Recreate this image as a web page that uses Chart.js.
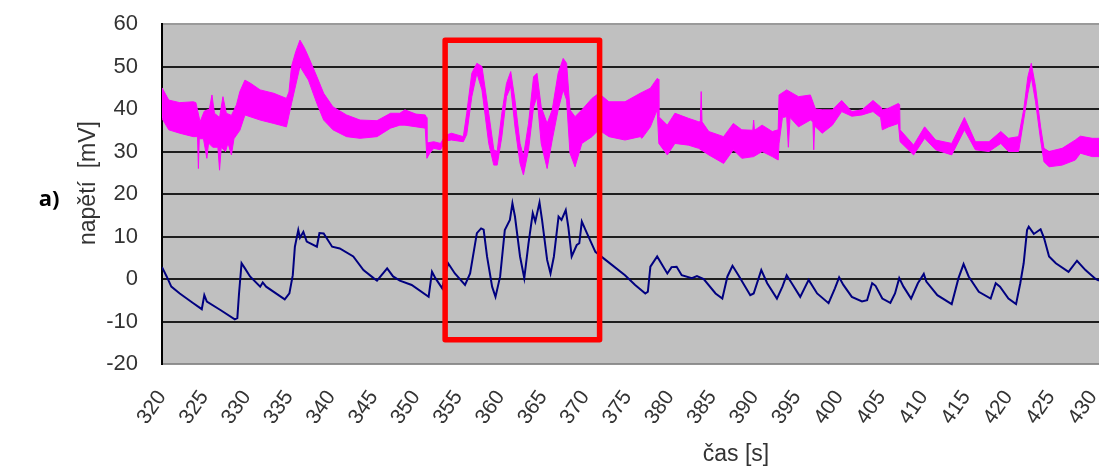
<!DOCTYPE html>
<html>
<head>
<meta charset="utf-8">
<script src="https://cdn.jsdelivr.net/npm/chart.js@4"></script>
<style>
  html, body { margin: 0; padding: 0; background: #fff; }
</style>
</head>
<body>
<canvas id="chart" width="1099" height="466"></canvas>
<script>
// Tick labels
const xTicks = [320, 325, 330, 335, 340, 345, 350, 355, 360, 365, 370, 375, 380, 385, 390, 395, 400, 405, 410, 415, 420, 425, 430];
const yTicks = [-20, -10, 0, 10, 20, 30, 40, 50, 60];

// Navy trace (time [s], voltage [mV])
const navyTime = [320.0, 320.55, 321.1, 322.1, 323.7, 324.7, 325.0, 325.3, 326.9, 328.6, 328.9, 329.1, 329.4, 329.8, 330.4, 331.6, 331.9, 332.3, 334.5, 335.05,
  335.45, 335.7, 336.1, 336.3, 336.7, 337.1, 338.3, 338.6, 339.1, 340.1, 341.0, 342.6, 343.8, 345.0, 345.4, 346.6, 347.3, 348.1, 349.5, 351.5,
  351.9, 352.3, 353.1, 353.8, 354.6, 355.8, 356.4, 357.2, 357.7, 358.0, 358.4, 359.0, 359.4, 359.95, 360.5, 361.1, 361.4, 361.7, 362.3, 362.8,
  363.3, 363.8, 364.1, 364.6, 364.9, 365.5, 365.9, 366.3, 366.85, 367.2, 367.7, 368.0, 368.4, 369.0, 369.3, 369.6, 370.2, 371.2, 372.4, 374.7,
  375.9, 377.1, 377.4, 377.7, 378.5, 379.1, 379.7, 380.2, 380.8, 381.4, 382.6, 383.2, 384.0, 385.4, 386.2, 386.8, 387.4, 388.1, 389.5, 389.9,
  390.8, 391.5, 392.65, 393.3, 393.8, 394.4, 395.4, 396.4, 397.4, 398.75, 399.5, 400.0, 400.5, 401.5, 402.7, 403.3, 403.9, 404.3, 405.1, 406.05,
  406.6, 407.1, 407.6, 408.5, 409.3, 410.0, 410.3, 411.6, 413.3, 414.1, 414.7, 415.3, 416.5, 417.9, 418.5, 419.0, 420.0, 420.9, 421.4, 421.8,
  422.2, 422.4, 423.0, 423.8, 424.2, 424.8, 425.6, 427.1, 428.1, 429.1, 430.3, 430.7];
const navyVolt = [2.8, 0.6, -1.8, -3.4, -5.7, -7.1, -3.8, -5.3, -7.3, -9.5, -9.2, -3.4, 3.7, 2.5, 0.6, -1.8, -0.8, -1.8, -4.8, -3.4,
  0.9, 7.6, 11.5, 9.7, 11.1, 8.8, 7.6, 10.8, 10.7, 7.6, 7.2, 5.3, 2.1, 0.2, -0.4, 2.5, 0.6, -0.4, -1.4, -4.2,
  1.7, 0.2, -2.2, 3.7, 1.3, -1.4, 1.3, 10.8, 11.9, 11.6, 5.3, -1.8, -4.2, 0.6, 11.5, 13.9, 17.8, 14.7, 5.3, 0.2,
  8.4, 15.5, 13.5, 18.0, 13.9, 4.5, 1.3, 5.3, 14.7, 13.9, 16.2, 12.3, 5.3, 8.0, 8.4, 13.5, 10.8, 6.4, 4.5, 0.9,
  -1.4, -3.4, -3.0, 2.9, 5.3, 3.3, 1.3, 2.8, 2.9, 0.9, 0.2, 0.7, 0.0, -3.4, -4.6, 0.6, 3.1, 0.9, -3.8, -3.4,
  2.1, -1.0, -4.6, -1.8, 0.9, -1.0, -4.2, -0.2, -3.4, -5.7, -2.2, 0.4, -1.4, -4.2, -5.3, -5.0, -1.0, -1.6, -4.6, -5.6,
  -3.4, 0.2, -1.8, -4.6, -1.0, 1.2, -0.6, -3.8, -5.9, 0.2, 3.5, 0.6, -3.0, -4.6, -1.0, -1.8, -4.6, -5.9, -1.0, 3.7,
  11.5, 12.3, 10.6, 11.7, 9.7, 5.3, 3.7, 1.7, 4.3, 2.1, 0.0, -0.4];

// Magenta trace: upper envelope of the noisy band
const pinkHiTime = [320.0, 320.8, 322.1, 323.7, 324.0, 324.5, 325.0, 325.6, 325.9, 326.2, 326.8, 327.2, 327.6, 328.2, 328.8, 329.2, 329.8, 330.5, 331.6, 333.2,
  334.7, 335.0, 335.3, 335.8, 336.3, 336.8, 337.3, 338.3, 339.1, 340.2, 341.8, 343.4, 345.4, 347.0, 348.1, 348.7, 350.0, 351.1, 351.25, 351.3,
  352.1, 352.9, 353.5, 354.2, 355.6, 356.0, 356.6, 357.2, 357.8, 358.6, 359.2, 359.6, 360.15, 360.7, 361.2, 361.7, 362.3, 362.7, 363.3, 363.9,
  364.3, 364.8, 365.5, 366.1, 366.8, 367.4, 367.8, 368.2, 368.8, 369.6, 370.8, 371.6, 372.8, 374.7, 376.5, 377.7, 378.5, 378.65, 378.7, 379.7,
  380.6, 382.2, 383.4, 383.6, 383.7, 383.8, 384.6, 386.35, 387.5, 388.5, 389.8, 389.9, 390.0, 390.9, 392.1, 392.8, 392.9, 393.8, 395.2, 396.6,
  397.2, 398.0, 399.2, 400.3, 401.5, 402.7, 404.0, 404.9, 405.1, 405.85, 407.0, 407.15, 407.2, 408.8, 410.1, 411.4, 413.3, 414.8, 416.1, 417.7,
  419.1, 420.0, 421.2, 421.8, 422.3, 422.7, 423.2, 423.8, 424.2, 424.8, 426.35, 427.9, 428.5, 429.9, 430.7];
const pinkHi = [45.0, 42.1, 41.5, 41.7, 41.5, 37.0, 39.5, 40.0, 43.3, 39.0, 38.0, 42.9, 39.0, 38.5, 41.0, 44.1, 46.8, 46.0, 44.5, 43.7,
  42.5, 44.0, 50.0, 53.5, 56.2, 54.5, 52.3, 47.6, 43.7, 40.5, 38.6, 37.4, 37.25, 39.0, 39.0, 39.8, 38.8, 38.6, 38.0, 32.0,
  32.3, 31.9, 33.8, 34.3, 33.5, 39.0, 48.4, 50.75, 50.0, 39.0, 30.4, 30.0, 39.0, 46.0, 48.8, 42.1, 31.9, 28.8, 36.6, 47.6,
  48.4, 40.5, 36.6, 39.8, 48.4, 51.9, 50.75, 39.8, 38.2, 39.8, 42.5, 43.7, 41.7, 41.7, 43.7, 44.9, 47.2, 47.0, 38.2, 36.2,
  39.0, 37.8, 37.0, 37.0, 44.1, 37.0, 34.7, 33.5, 36.6, 35.1, 35.0, 37.4, 35.0, 36.2, 34.7, 35.1, 43.3, 44.5, 42.9, 43.3,
  40.0, 39.8, 39.8, 42.0, 39.4, 39.8, 42.0, 40.5, 39.8, 40.2, 41.3, 41.0, 35.1, 31.5, 35.8, 32.7, 31.9, 38.0, 32.3, 32.3,
  34.7, 33.1, 33.5, 39.8, 47.6, 50.75, 45.25, 35.8, 30.75, 30.0, 30.75, 32.7, 33.6, 33.1, 33.1];

// Magenta trace: lower envelope of the noisy band
const pinkLoTime = [320.0, 320.8, 322.1, 323.7, 324.2, 324.3, 324.4, 324.9, 325.3, 325.5, 326.0, 326.6, 326.8, 327.0, 327.5, 327.8, 328.2, 328.5, 329.2, 329.8,
  331.6, 333.2, 334.7, 335.3, 336.3, 337.3, 338.3, 339.1, 340.2, 341.8, 343.4, 345.4, 347.0, 348.1, 348.7, 351.1, 351.3, 351.6, 352.1, 352.9,
  353.5, 354.2, 355.6, 356.0, 356.6, 357.2, 357.8, 358.6, 359.2, 359.6, 360.15, 360.7, 361.2, 361.7, 362.3, 362.7, 363.3, 363.9, 364.3, 364.8,
  365.5, 366.1, 366.8, 367.4, 367.8, 368.2, 368.8, 369.6, 370.8, 371.6, 372.8, 374.7, 376.5, 376.7, 377.7, 378.5, 378.7, 379.7, 380.6, 382.2,
  383.4, 384.6, 386.35, 387.5, 388.5, 389.9, 390.9, 392.1, 392.8, 392.9, 393.3, 393.8, 394.0, 394.2, 395.2, 396.6, 396.9, 397.0, 397.1, 398.0,
  399.2, 400.3, 401.5, 402.7, 404.0, 404.9, 405.1, 405.85, 407.0, 407.2, 408.8, 410.1, 411.4, 413.3, 414.8, 416.1, 417.7, 419.1, 420.0, 421.2,
  421.8, 422.3, 422.7, 423.2, 423.8, 424.2, 424.8, 426.35, 427.9, 428.5, 429.9, 430.7];
const pinkLo = [37.8, 35.1, 34.3, 33.5, 33.5, 26.0, 33.0, 33.0, 28.4, 32.0, 31.0, 31.0, 25.6, 31.0, 30.0, 32.0, 29.2, 33.0, 35.0, 38.6,
  37.4, 36.6, 35.8, 41.3, 50.0, 46.8, 41.3, 37.4, 35.1, 33.5, 33.1, 33.5, 35.5, 36.2, 36.2, 35.5, 28.4, 29.5, 30.75, 30.4,
  32.5, 32.7, 32.3, 34.0, 42.9, 48.4, 44.5, 31.9, 26.8, 26.8, 33.5, 42.9, 45.25, 35.8, 27.2, 24.5, 30.4, 40.5, 42.9, 31.9,
  26.0, 32.7, 39.8, 44.5, 42.1, 29.6, 26.4, 31.9, 33.5, 35.1, 33.5, 32.7, 33.5, 33.1, 35.8, 39.8, 31.9, 29.2, 31.9, 31.5,
  30.75, 29.2, 27.2, 30.4, 28.4, 28.8, 30.0, 28.8, 28.0, 31.9, 38.0, 38.2, 31.0, 38.0, 35.8, 37.4, 37.0, 30.4, 36.0, 34.3,
  36.2, 39.4, 38.3, 38.6, 39.4, 38.0, 35.1, 35.8, 36.6, 32.3, 29.2, 33.1, 30.4, 29.2, 35.1, 30.4, 30.0, 31.9, 30.0, 30.0,
  37.4, 43.7, 47.6, 41.7, 32.7, 27.6, 26.4, 26.8, 28.0, 29.6, 28.8, 28.8];

// Highlighted window (red frame), in axis units
const boxSpan = [353.45, 371.7];
const boxRange = [-14.3, 56.2];

function toPoints(xs, ys) {
    return xs.map((x, i) => ({ x: x, y: ys[i] }));
}

// Gray plot background
const plotBackground = {
    id: 'plotBackground',
    beforeDraw(chart) {
        const { ctx, chartArea } = chart;
        ctx.save();
        ctx.fillStyle = '#c0c0c0';
        ctx.fillRect(chartArea.left, chartArea.top, chartArea.right - chartArea.left, chartArea.bottom - chartArea.top);
        ctx.restore();
    }
};

// Red frame round the oscillation
const redFrame = {
    id: 'redFrame',
    afterDatasetsDraw(chart) {
        const { ctx } = chart;
        const { x, y } = chart.scales;
        const l = x.getPixelForValue(boxSpan[0]);
        const r = x.getPixelForValue(boxSpan[1]);
        const t = y.getPixelForValue(boxRange[1]);
        const b = y.getPixelForValue(boxRange[0]);
        ctx.save();
        ctx.strokeStyle = '#ff0000';
        ctx.lineWidth = 5.5;
        ctx.lineJoin = 'round';
        ctx.strokeRect(l, t, r - l, b - t);
        ctx.restore();
    }
};

// Axis titles and panel letter
const captions = {
    id: 'captions',
    afterDraw(chart) {
        const ctx = chart.ctx;
        ctx.save();
        ctx.textAlign = 'center';
        ctx.textBaseline = 'middle';
        ctx.fillStyle = '#000';
        ctx.font = 'bold 22px "Open Sans", sans-serif';
        ctx.fillText('a)', 49, 200);
        ctx.fillStyle = '#333';
        ctx.font = '23px "Liberation Sans", Arial, sans-serif';
        ctx.fillText('čas [s]', 736, 455);
        ctx.translate(89, 183);
        ctx.rotate(-Math.PI / 2);
        ctx.fillText('napětí  [mV]', 0, 0);
        ctx.restore();
    }
};

Chart.defaults.font.family = '"Liberation Sans", Arial, sans-serif';

new Chart(document.getElementById('chart'), {
    type: 'line',
    data: {
        datasets: [
            {
                data: toPoints(pinkHiTime, pinkHi),
                borderColor: '#ff00ff',
                backgroundColor: '#ff00ff',
                borderWidth: 1,
                pointRadius: 0,
                fill: '+1'
            },
            {
                data: toPoints(pinkLoTime, pinkLo),
                borderColor: '#ff00ff',
                borderWidth: 1,
                pointRadius: 0,
                fill: false
            },
            {
                data: toPoints(navyTime, navyVolt),
                borderColor: '#000080',
                borderWidth: 2,
                pointRadius: 0,
                fill: false
            }
        ]
    },
    options: {
        responsive: false,
        animation: false,
        layout: { padding: { top: 24, left: 0, right: 0, bottom: 0 } },
        plugins: {
            legend: { display: false },
            tooltip: { enabled: false }
        },
        scales: {
            x: {
                type: 'linear',
                min: 320,
                max: 430.7,
                grid: { display: false, drawTicks: false },
                border: { display: true, color: '#8c8c8c', width: 1.5 },
                ticks: {
                    stepSize: 5,
                    includeBounds: false,
                    autoSkip: false,
                    minRotation: 55,
                    maxRotation: 55,
                    padding: 22,
                    color: '#333',
                    font: { size: 21 }
                },
                afterBuildTicks(scale) {
                    scale.ticks = xTicks.map(v => ({ value: v }));
                },
                afterFit(scale) {
                    scale.height = 102;
                    scale.paddingLeft = 0;
                    scale.paddingRight = 0;
                }
            },
            y: {
                min: -20,
                max: 60,
                ticks: { stepSize: 10, padding: 24, color: '#333', font: { size: 22 } },
                afterBuildTicks(scale) {
                    scale.ticks = yTicks.map(v => ({ value: v }));
                },
                grid: {
                    drawTicks: false,
                    lineWidth: 2,
                    color: c => (c.tick && (c.tick.value === 60 || c.tick.value === -20)) ? '#9a9a9a' : '#1e1e1e'
                },
                border: { display: true, color: '#000', width: 2 },
                afterFit(scale) {
                    scale.width = 162;
                    scale.paddingTop = 0;
                    scale.paddingBottom = 0;
                }
            }
        }
    },
    plugins: [plotBackground, redFrame, captions]
});
</script>
</body>
</html>
